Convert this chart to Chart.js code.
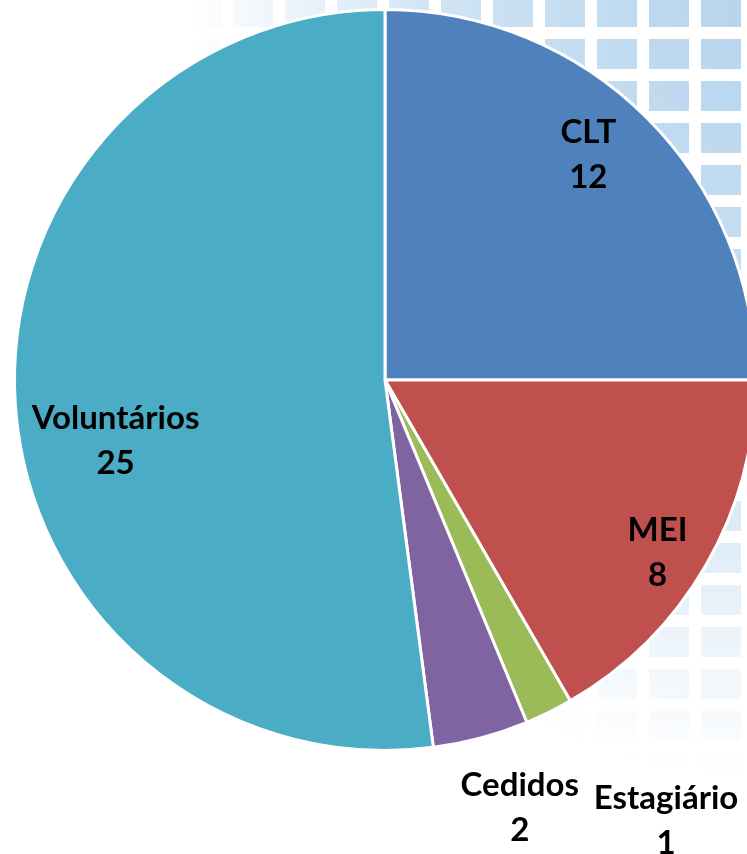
<!DOCTYPE html>
<html>
<head>
<meta charset="utf-8">
<script src="https://cdn.jsdelivr.net/npm/chart.js@4/dist/chart.umd.min.js"></script>
<style>
  html, body { margin: 0; padding: 0; width: 747px; height: 854px; overflow: hidden; background: #ffffff; }
  #bg {
    position: absolute; left: 0; top: 0; width: 747px; height: 854px;
    background-color: #a9cdea;
    background-image:
      repeating-linear-gradient(90deg, transparent 0px, transparent 40px, #ffffff 40px, #ffffff 52px),
      repeating-linear-gradient(0deg, transparent 0px, transparent 30px, #ffffff 30px, #ffffff 42px);
    background-position: 25px 13px;
    -webkit-mask-image: radial-gradient(ellipse 560px 780px at 747px 0px, rgba(0,0,0,0.85) 0%, rgba(0,0,0,0.55) 55%, rgba(0,0,0,0) 100%);
    mask-image: radial-gradient(ellipse 560px 780px at 747px 0px, rgba(0,0,0,0.85) 0%, rgba(0,0,0,0.55) 55%, rgba(0,0,0,0) 100%);
  }
  #wrap { position: absolute; left: 0; top: 0; width: 770px; height: 854px; }
</style>
</head>
<body>
<div id="bg"></div>
<div id="wrap"><canvas id="c" width="770" height="854"></canvas></div>
<script>
const categories = ["CLT", "MEI", "Estagiário", "Cedidos", "Voluntários"];
const values = [12, 8, 1, 2, 25];
const colors = ["#4F81BD", "#C0504D", "#9BBB59", "#8064A2", "#4BACC6"];

// label placement: [radius factor, angle offset in degrees]
const labelPlacement = [[0.82, -3], [0.87, 2.3], [1.41, -6.3], [1.21, -2.5], [0.745, -8.8]];

const labelPlugin = {
  id: 'pieLabels',
  afterDatasetsDraw(chart) {
    const ctx = chart.ctx;
    const meta = chart.getDatasetMeta(0);
    ctx.save();
    ctx.font = 'bold 33px Lato, "Open Sans", sans-serif';
    ctx.fillStyle = '#000000';
    ctx.textAlign = 'center';
    ctx.textBaseline = 'middle';
    meta.data.forEach((arc, i) => {
      const p = arc.getProps(['x', 'y', 'startAngle', 'endAngle', 'outerRadius'], true);
      const mid = (p.startAngle + p.endAngle) / 2 + labelPlacement[i][1] * Math.PI / 180;
      const r = p.outerRadius * labelPlacement[i][0];
      const cx = p.x + Math.cos(mid) * r;
      const cy = p.y + Math.sin(mid) * r;
      ctx.fillText(categories[i], cx, cy - 22);
      ctx.fillText(String(values[i]), cx, cy + 23);
    });
    ctx.restore();
  }
};

new Chart(document.getElementById('c'), {
  type: 'pie',
  data: {
    labels: categories,
    datasets: [{
      data: values,
      backgroundColor: colors,
      borderColor: '#ffffff',
      borderWidth: 3
    }]
  },
  options: {
    responsive: false,
    animation: false,
    layout: { padding: { top: 8, bottom: 102, left: 0, right: 0 } },
    plugins: { legend: { display: false }, tooltip: { enabled: false } }
  },
  plugins: [labelPlugin]
});
</script>
</body>
</html>
